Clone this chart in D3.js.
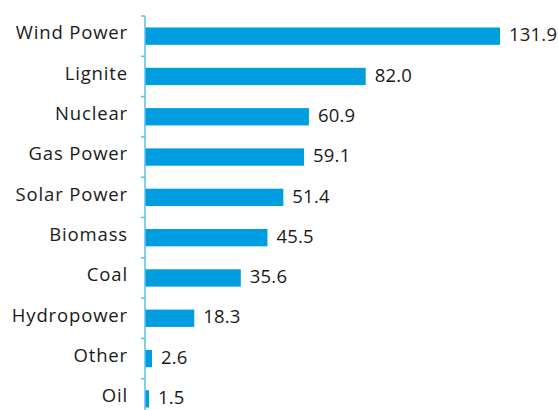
<!DOCTYPE html>
<html><head><meta charset="utf-8">
<script src="https://cdn.jsdelivr.net/npm/d3@7"></script>
<style>body{margin:0;background:#fff}svg{display:block}</style>
</head><body>
<svg id="chart" width="558" height="410"></svg>
<script>
const categories = ["Wind Power","Lignite","Nuclear","Gas Power","Solar Power","Biomass","Coal","Hydropower","Other","Oil"];
const values = [131.9,82.0,60.9,59.1,51.4,45.5,35.6,18.3,2.6,1.5];

(function(){
const svg = d3.select("#chart");
const x0 = 145, yTop = 16;
const x = d3.scaleLinear().domain([0,131.9]).range([x0,500]);
const y = d3.scaleBand().domain(categories).range([yTop, yTop+403]).paddingInner(0.57).paddingOuter(0.285);
const font = "'Open Sans', sans-serif";

svg.selectAll("rect.bar").data(categories).enter().append("rect")
  .attr("x", x(0)).attr("y", d=>y(d)).attr("height", y.bandwidth())
  .attr("width", (d,i)=>x(values[i])-x(0)).attr("fill","#009ee0");

svg.append("line").attr("x1",x0).attr("x2",x0).attr("y1",yTop).attr("y2",420)
  .attr("stroke","#5bbfea").attr("stroke-width",1.5);
const step = y.step();
svg.selectAll("line.tick").data(d3.range(categories.length+1)).enter().append("line")
  .attr("x1",x0-4).attr("x2",x0).attr("y1",i=>yTop+i*step).attr("y2",i=>yTop+i*step)
  .attr("stroke","#5bbfea").attr("stroke-width",1.5);

svg.selectAll("text.cat").data(categories).enter().append("text")
  .attr("x",128).attr("y",d=>y(d)+y.bandwidth()/2).attr("dy","0.18em")
  .attr("text-anchor","end").attr("font-family",font).attr("font-size",18.5)
  .attr("letter-spacing","0.85px").attr("fill","#1a1a1a")
  .text(d=>d);

svg.selectAll("text.val").data(categories).enter().append("text")
  .attr("x",(d,i)=>x(values[i])+9).attr("y",d=>y(d)+y.bandwidth()/2).attr("dy","0.28em")
  .attr("font-family",font).attr("font-size",18.5).attr("letter-spacing","0.2px").attr("fill","#1a1a1a")
  .text((d,i)=>values[i].toFixed(1));
})();
</script>
</body></html>
